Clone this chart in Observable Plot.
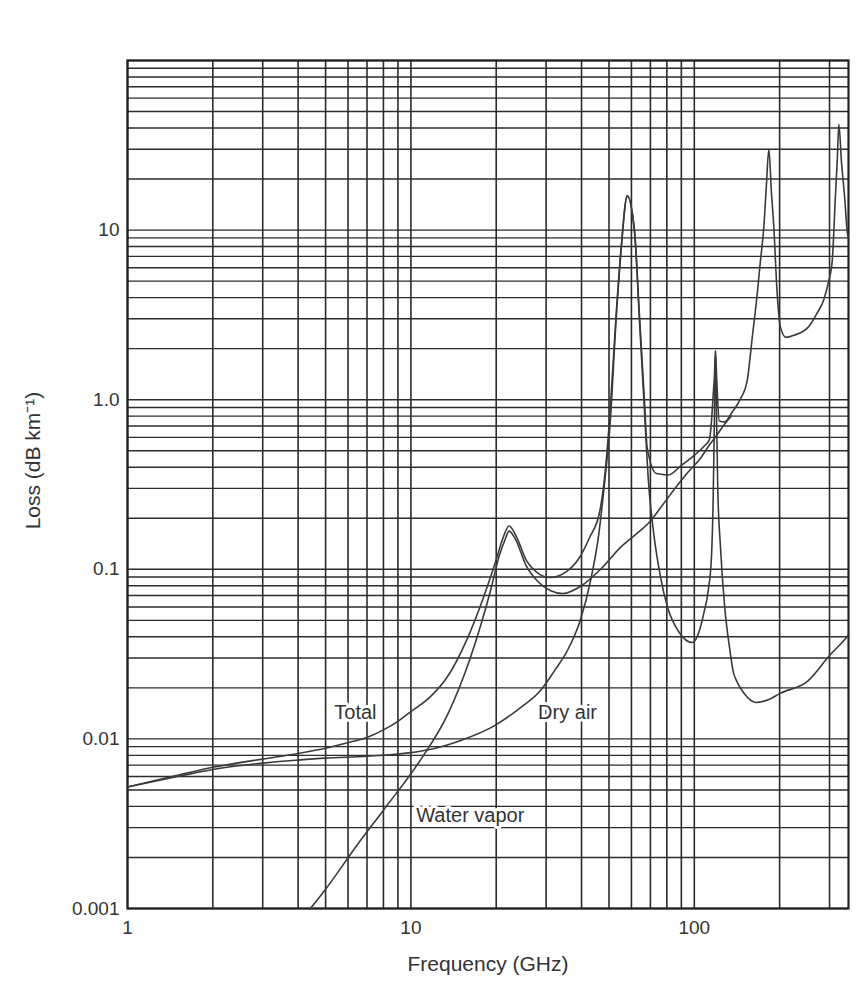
<!DOCTYPE html>
<html><head><meta charset="utf-8">
<script src="https://cdn.jsdelivr.net/npm/d3@7"></script>
<script src="https://cdn.jsdelivr.net/npm/@observablehq/plot@0.6"></script>
<style>
html,body{margin:0;padding:0;background:#fff;}
#chart svg{display:block;}
</style></head><body><div id="chart"></div>
<script>
// Total attenuation (dB/km) vs frequency (GHz)
const totalFreq = [1,1.5,2,3,4,5,6,7,8,9,10,11.7,13.4,15.7,17.9,20.1,21.1,22.2,23.6,25.6,27.8,30.9,35.4,39.3,42.7,46.4,48.5,50.4,53,55.2,58,61.5,64,66.6,68.2,73.5,81,90,98.5,108,113,115,116.5,117.8,118.75,119.8,120.7,122.5,128,135,145,153.7,160,166.7,171,175.9,179.5,183.2,187,190.8,196.1,201.4,210.7,225,251.9,270,285.7,298,306.7,315,319.4,323.6,330.7,338.8,347.2,350];
const totalLoss = [0.0052,0.0061,0.0068,0.0076,0.0082,0.0088,0.0095,0.0102,0.0113,0.0127,0.0145,0.0177,0.023,0.038,0.066,0.117,0.152,0.18,0.155,0.112,0.096,0.0895,0.097,0.117,0.154,0.22,0.38,0.83,3.2,7.9,16,10,3.2,1.03,0.52,0.367,0.36,0.41,0.46,0.53,0.58,0.75,1.05,1.4,1.95,1.4,1.05,0.75,0.74,0.83,1.0,1.3,2.3,4.2,6.5,10.4,18,30,17,10.4,4.2,2.67,2.33,2.4,2.67,3.2,3.85,5,6.6,16.4,25.7,42,25,16,9.5,9.0];

// Dry air
const dryFreq = [1,1.5,2,3,4,5,7,10,11.4,15,19.6,24,28.6,32,35.6,39.6,43,46,48,50.4,53,55.2,58,61.5,64,66.6,68.9,72,76,80.4,88,98.6,104,108,112,115,116.5,117.8,118.75,119.8,121,123.7,128,133,137.5,141,150,165,185,200,252,300,346,350];
const dryLoss = [0.0052,0.006,0.0066,0.0072,0.0075,0.0077,0.0079,0.0083,0.0086,0.0098,0.0119,0.015,0.0192,0.025,0.033,0.05,0.085,0.16,0.3,0.7,3.0,7.7,15.8,9.8,3.0,0.9,0.33,0.16,0.09,0.06,0.043,0.037,0.043,0.055,0.075,0.12,0.25,0.8,1.95,0.8,0.3,0.135,0.06,0.035,0.0245,0.022,0.0185,0.0164,0.0172,0.0185,0.022,0.031,0.04,0.041];

// Water vapor
const vaporFreq = [4.42,5,6.5,8,10.8,13.5,16.2,19.1,20.5,21.5,22.2,23.4,25.5,28,31,34.3,40,46.7,55,62,69.9,75.9,89.4,94.5,105,113,121,128,135];
const vaporLoss = [0.001,0.0013,0.0024,0.0038,0.0075,0.014,0.03,0.075,0.12,0.15,0.168,0.15,0.105,0.085,0.075,0.072,0.08,0.1,0.135,0.16,0.192,0.23,0.33,0.37,0.45,0.54,0.63,0.72,0.8];

// Curve labels (in data coordinates)
const labelText = ["Total","Dry air","Water vapor"];
const labelFreq = [6.37,35.7,16.2];
const labelLoss = [0.0143,0.0142,0.00354];

// Axis ticks and titles
const xTickValues = [1,10,100];
const xTickLabels = ["1","10","100"];
const yTickValues = [0.001,0.01,0.1,1,10];
const yTickLabels = ["0.001","0.01","0.1","1.0","10"];
const xTitle = "Frequency (GHz)";
const yTitle = "Loss (dB km⁻¹)";

const xGrid = [];
for (const d of [1,10,100]) for (let m = 1; m < 10; m++) { const v = d*m; if (v <= 350) xGrid.push(v); }
const yGrid = [];
for (const d of [0.001,0.01,0.1,1,10]) for (let m = 1; m < 10; m++) yGrid.push(+(d*m).toPrecision(3));
yGrid.push(100);

const toRows = (fs, vs) => fs.map((f, i) => ({f, v: vs[i]}));
const total = toRows(totalFreq, totalLoss);
const dry = toRows(dryFreq, dryLoss);
const vapor = toRows(vaporFreq, vaporLoss);
const labels = labelText.map((t, i) => ({text: t, f: labelFreq[i], v: labelLoss[i]}));

const plot = Plot.plot({
  width: 857, height: 983,
  marginLeft: 127, marginRight: 9, marginTop: 60, marginBottom: 75,
  style: {fontFamily: "'Liberation Sans', Arial, sans-serif", fontSize: "19px", color: "#333", background: "#fff"},
  x: {type: "log", domain: [1, 350], ticks: xTickValues,
      tickFormat: d => xTickLabels[xTickValues.indexOf(d)],
      tickSize: 0, tickPadding: 12, label: null},
  y: {type: "log", domain: [0.001, 100], ticks: yTickValues,
      tickFormat: d => yTickLabels[yTickValues.indexOf(d)],
      tickSize: 0, tickPadding: 8, label: null},
  marks: [
    Plot.ruleX(xGrid, {stroke: "#2b2b2b", strokeWidth: 1.6}),
    Plot.ruleY(yGrid, {stroke: "#2b2b2b", strokeWidth: 1.4}),
    Plot.frame({stroke: "#222", strokeWidth: 2.2}),
    Plot.line(dry, {x: "f", y: "v", curve: "monotone-x", stroke: "#3a3a3a", strokeWidth: 1.6}),
    Plot.line(vapor, {x: "f", y: "v", curve: "monotone-x", stroke: "#3a3a3a", strokeWidth: 1.6}),
    Plot.line(total, {x: "f", y: "v", curve: "monotone-x", stroke: "#3a3a3a", strokeWidth: 1.6}),
    Plot.text(labels, {x: "f", y: "v", text: "text", fill: "#333", stroke: "white", strokeWidth: 6, fontSize: 20}),
    Plot.text([xTitle], {text: d => d, frameAnchor: "bottom", textAnchor: "middle", lineAnchor: "middle", dy: 56, fontSize: 21, fill: "#333"}),
    Plot.text([yTitle], {text: d => d, frameAnchor: "left", textAnchor: "middle", lineAnchor: "middle", rotate: -90, dx: -94, dy: -24, fontSize: 21, fill: "#333"})
  ]
});
document.getElementById("chart").appendChild(plot);
</script></body></html>
